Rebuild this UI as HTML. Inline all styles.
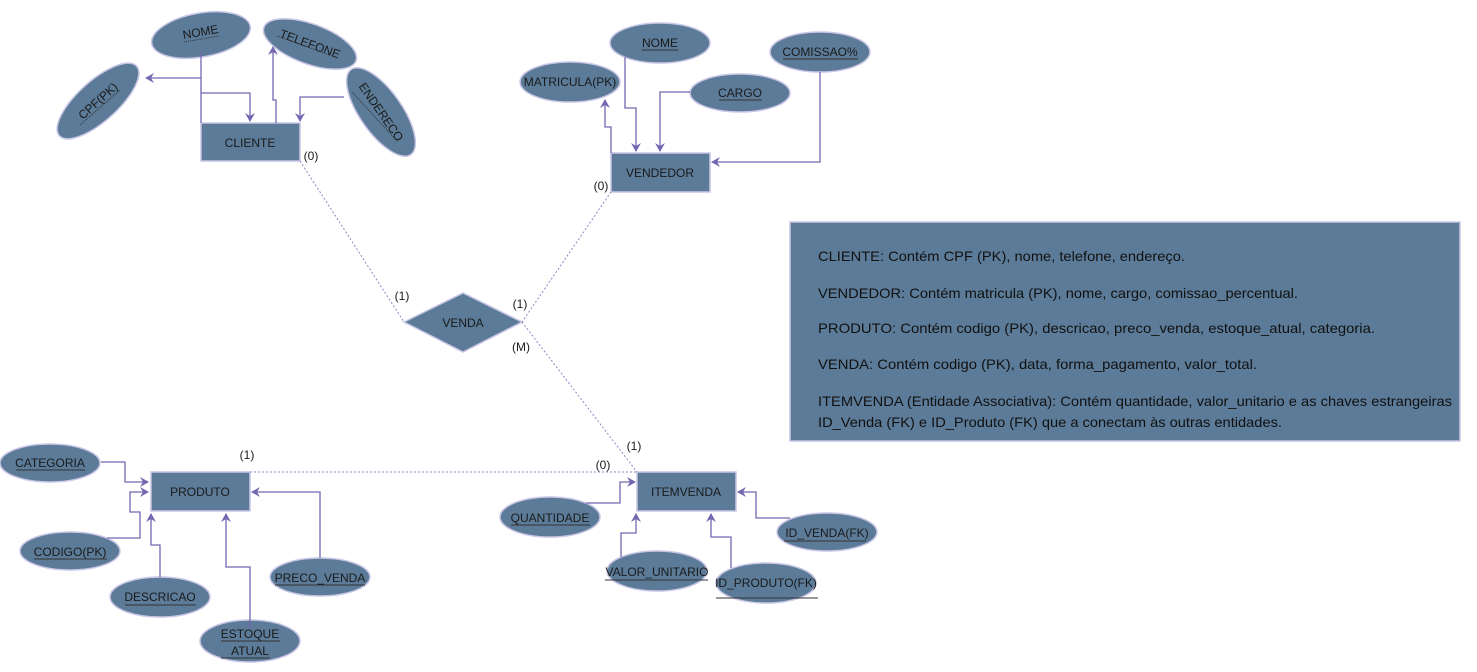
<!DOCTYPE html>
<html><head><meta charset="utf-8"><style>
html,body{margin:0;padding:0;background:#fff;}
svg{display:block;font-family:"Liberation Sans",Arial,sans-serif;}
</style></head><body>
<svg width="1477" height="672" viewBox="0 0 1477 672" xmlns="http://www.w3.org/2000/svg">
<defs>
<marker id="a" markerWidth="10" markerHeight="10" refX="8" refY="5" orient="auto" markerUnits="userSpaceOnUse">
<path d="M0,0 L9,5 L0,10 L3,5 Z" fill="#7466b0"/>
</marker>
</defs>
<g fill="#5b7b98" stroke="#c9c6e6" stroke-width="1.5">
<!-- entities -->
<rect x="201" y="123" width="99" height="38"/>
<rect x="611" y="153" width="99" height="39"/>
<rect x="151" y="472" width="99" height="39"/>
<rect x="637" y="472" width="99" height="39"/>
<polygon points="404,322 463,293 522,322 463,352"/>
<rect x="790" y="222" width="670" height="219"/>
<!-- ellipses -->
<ellipse cx="201" cy="35" rx="50" ry="22" transform="rotate(-10 201 35)"/>
<ellipse cx="310" cy="44" rx="49" ry="20" transform="rotate(20 310 44)"/>
<ellipse cx="98" cy="101" rx="52" ry="20" transform="rotate(-42 98 101)"/>
<ellipse cx="381" cy="112" rx="52" ry="21" transform="rotate(55 381 112)"/>
<ellipse cx="660" cy="43" rx="50" ry="20"/>
<ellipse cx="570" cy="82" rx="50" ry="20"/>
<ellipse cx="740" cy="93" rx="50" ry="19"/>
<ellipse cx="820" cy="52" rx="50" ry="20"/>
<ellipse cx="50" cy="463" rx="50" ry="19"/>
<ellipse cx="70" cy="551" rx="50" ry="19"/>
<ellipse cx="160" cy="597" rx="50" ry="20"/>
<ellipse cx="250" cy="641" rx="50" ry="21"/>
<ellipse cx="320" cy="577" rx="50" ry="19"/>
<ellipse cx="550" cy="517" rx="50" ry="20"/>
<ellipse cx="657" cy="571" rx="50" ry="20"/>
<ellipse cx="766" cy="583" rx="50" ry="20"/>
<ellipse cx="827" cy="532" rx="50" ry="19"/>
</g>
<!-- connectors -->
<g fill="none" stroke="#7466b0" stroke-width="1.3">
<path d="M201,53 V123"/>
<path d="M201,78 H146" marker-end="url(#a)"/>
<path d="M201,93 H250 V121" marker-end="url(#a)"/>
<path d="M276,123 V100 H273 V47" marker-end="url(#a)"/>
<path d="M344,97 H300 V121" marker-end="url(#a)"/>
<path d="M625,57 V108 H636 V151" marker-end="url(#a)"/>
<path d="M690,92 H660 V151" marker-end="url(#a)"/>
<path d="M820,72 V162 H712" marker-end="url(#a)"/>
<path d="M611,153 V127 H605 V100" marker-end="url(#a)"/>
<path d="M101,462 H125 V482 H148" marker-end="url(#a)"/>
<path d="M107,538 H140 V512 H130 V492 H148" marker-end="url(#a)"/>
<path d="M160,577 V545 H151 V514" marker-end="url(#a)"/>
<path d="M250,628 V567 H226 V514" marker-end="url(#a)"/>
<path d="M320,558 V492 H252" marker-end="url(#a)"/>
<path d="M586,503 H620 V482 H635" marker-end="url(#a)"/>
<path d="M621,557 V533 H636 V514" marker-end="url(#a)"/>
<path d="M731,568 V537 H711 V514" marker-end="url(#a)"/>
<path d="M790,518 H756 V492 H738" marker-end="url(#a)"/>
</g>
<g fill="none" stroke="#8f86c4" stroke-width="1" stroke-dasharray="2,2">
<path d="M300,161 L404,322"/>
<path d="M611,192 L522,322"/>
<path d="M522,322 L637,472"/>
<path d="M250,472 H637"/>
</g>
<!-- labels -->
<g font-size="12" fill="#1a1a1a" text-anchor="middle">
<text x="250" y="147">CLIENTE</text>
<text x="660" y="177">VENDEDOR</text>
<text x="200" y="496">PRODUTO</text>
<text x="686" y="496">ITEMVENDA</text>
<text x="463" y="327">VENDA</text>
<text x="311" y="160">(0)</text>
<text x="601" y="190">(0)</text>
<text x="402" y="300">(1)</text>
<text x="520" y="308">(1)</text>
<text x="521" y="351">(M)</text>
<text x="634" y="450">(1)</text>
<text x="603" y="469">(0)</text>
<text x="247" y="459">(1)</text>
<text x="201" y="36" transform="rotate(-10 201 35)">NOME</text>
<text x="310" y="48" transform="rotate(20 310 44)">TELEFONE</text>
<text x="98" y="105" transform="rotate(-42 98 101)">CPF(PK)</text>
<text x="381" y="116" transform="rotate(55 381 112)">ENDERECO</text>
<text x="660" y="47">NOME</text>
<text x="570" y="86">MATRICULA(PK)</text>
<text x="740" y="97">CARGO</text>
<text x="820" y="56">COMISSAO%</text>
<text x="50" y="467">CATEGORIA</text>
<text x="70" y="556">CODIGO(PK)</text>
<text x="160" y="601">DESCRICAO</text>
<text x="250" y="638">ESTOQUE</text>
<text x="250" y="655">ATUAL</text>
<text x="320" y="582">PRECO_VENDA</text>
<text x="550" y="522">QUANTIDADE</text>
<text x="657" y="576">VALOR_UNITARIO</text>
<text x="766" y="587">ID_PRODUTO(FK)</text>
<text x="827" y="537">ID_VENDA(FK)</text>
</g>
<!-- underlines -->
<g stroke="#333" stroke-width="1">
<path d="M184,42 L219,36" stroke-dasharray="1,1"/>
<path d="M277,36 L338,58" stroke-dasharray="1,1"/>
<path d="M80,125 L120,90" stroke-dasharray="1,1"/>
<path d="M352,92 L398,142" stroke-dasharray="1,1"/>
<path d="M642,50 H678"/>
<path d="M783,59 H858"/>
<path d="M719,100 H762"/>
<path d="M16,470 H85"/>
<path d="M34,559 H107"/>
<path d="M125,605 H196"/>
<path d="M221,641 H280"/>
<path d="M221,658 H270"/>
<path d="M275,585 H365"/>
<path d="M511,525 H590"/>
<path d="M605,580 H708"/>
<path d="M716,598 H818"/>
<path d="M784,541 H866"/>
</g>
<!-- note -->
<g font-size="14" fill="#111">
<text x="818" y="261" textLength="367" lengthAdjust="spacingAndGlyphs">CLIENTE: Contém CPF (PK), nome, telefone, endereço.</text>
<text x="818" y="298" textLength="480" lengthAdjust="spacingAndGlyphs">VENDEDOR: Contém matricula (PK), nome, cargo, comissao_percentual.</text>
<text x="818" y="333" textLength="557" lengthAdjust="spacingAndGlyphs">PRODUTO: Contém codigo (PK), descricao, preco_venda, estoque_atual, categoria.</text>
<text x="818" y="369" textLength="439" lengthAdjust="spacingAndGlyphs">VENDA: Contém codigo (PK), data, forma_pagamento, valor_total.</text>
<text x="818" y="406" textLength="634" lengthAdjust="spacingAndGlyphs">ITEMVENDA (Entidade Associativa): Contém quantidade, valor_unitario e as chaves estrangeiras</text>
<text x="818" y="427" textLength="464" lengthAdjust="spacingAndGlyphs">ID_Venda (FK) e ID_Produto (FK) que a conectam às outras entidades.</text>
</g>
</svg>
</body></html>
